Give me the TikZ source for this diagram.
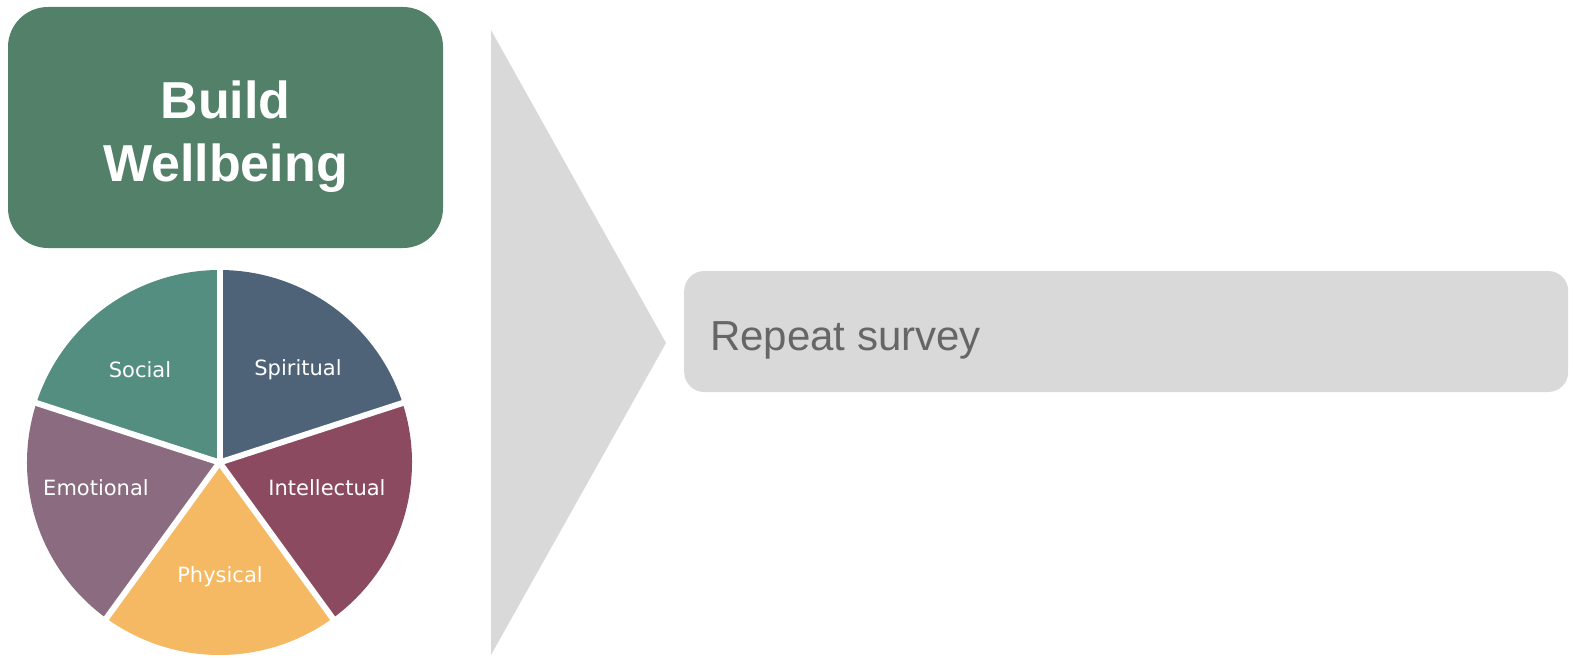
\documentclass[tikz,border=0pt]{standalone}
\usepackage{fontspec}
\setmainfont{Liberation Sans}
\newfontfamily\labelfont{DejaVu Sans}
\definecolor{wbgreen}{HTML}{538068}
\definecolor{chevgray}{HTML}{D9D9D9}
\definecolor{txtgray}{HTML}{666666}
\definecolor{csocial}{HTML}{548E80}
\definecolor{cspirit}{HTML}{4E6278}
\definecolor{cintel}{HTML}{8C4A60}
\definecolor{cemot}{HTML}{8A6B80}
\definecolor{cphys}{HTML}{F6B963}
\begin{document}
\begin{tikzpicture}[x=1pt,y=-1pt,
  slicelabel/.style={text=white,font=\labelfont\fontsize{21}{24}\selectfont,inner sep=0pt},
  gap/.style={draw=white,line width=6pt,line join=round}]
\useasboundingbox (0,0) rectangle (1573,658);
% green title box
\node[fill=wbgreen,rounded corners=40pt,minimum width=435pt,minimum height=241pt,inner sep=0pt]
  (build) at (225.5,127.5) {};
\node[text=white,align=center,font=\bfseries\fontsize{52}{63}\selectfont,inner sep=0pt]
  (buildtext) at ([yshift=-9pt]build.center) {Build\\Wellbeing};
% chevron
\fill[chevgray] (491,30) -- (666,343) -- (491,655) -- cycle;
% repeat survey box
\node[fill=chevgray,rounded corners=20pt,minimum width=884pt,minimum height=121pt,inner sep=0pt,anchor=west]
  (repeat) at (684,331.5) {};
\node[text=txtgray,font=\fontsize{42}{48}\selectfont,anchor=base west,inner sep=0pt]
  (repeattext) at (710,350) {Repeat survey};
% pie
\begin{scope}[shift={(219.5,462.5)},yscale=-1]
  \def\r{192.5}
  \fill[cspirit] (0,0) -- (18:\r) arc[start angle=18,end angle=90,radius=\r] -- cycle;
  \fill[csocial] (0,0) -- (90:\r) arc[start angle=90,end angle=162,radius=\r] -- cycle;
  \fill[cemot] (0,0) -- (162:\r) arc[start angle=162,end angle=234,radius=\r] -- cycle;
  \fill[cphys] (0,0) -- (234:\r) arc[start angle=234,end angle=306,radius=\r] -- cycle;
  \fill[cintel] (0,0) -- (306:\r) arc[start angle=306,end angle=378,radius=\r] -- cycle;
  \coordinate (pc) at (0,0);
  \coordinate (b1) at (18:\r+4);
  \coordinate (b2) at (90:\r+4);
  \coordinate (b3) at (162:\r+4);
  \coordinate (b4) at (234:\r+4);
  \coordinate (b5) at (306:\r+4);
  \draw[gap] (pc) -- (b1);
  \draw[gap] (pc) -- (b2);
  \draw[gap] (pc) -- (b3);
  \draw[gap] (pc) -- (b4);
  \draw[gap] (pc) -- (b5);
\end{scope}
\node[slicelabel] (social) at (140,370) {Social};
\node[slicelabel] (spiritual) at (298,370) {Spiritual};
\node[slicelabel] (emotional) at (96,488) {Emotional};
\node[slicelabel] (intellectual) at (327,488) {Intellectual};
\node[slicelabel] (physical) at (220,577) {Physical};
\end{tikzpicture}
\end{document}
